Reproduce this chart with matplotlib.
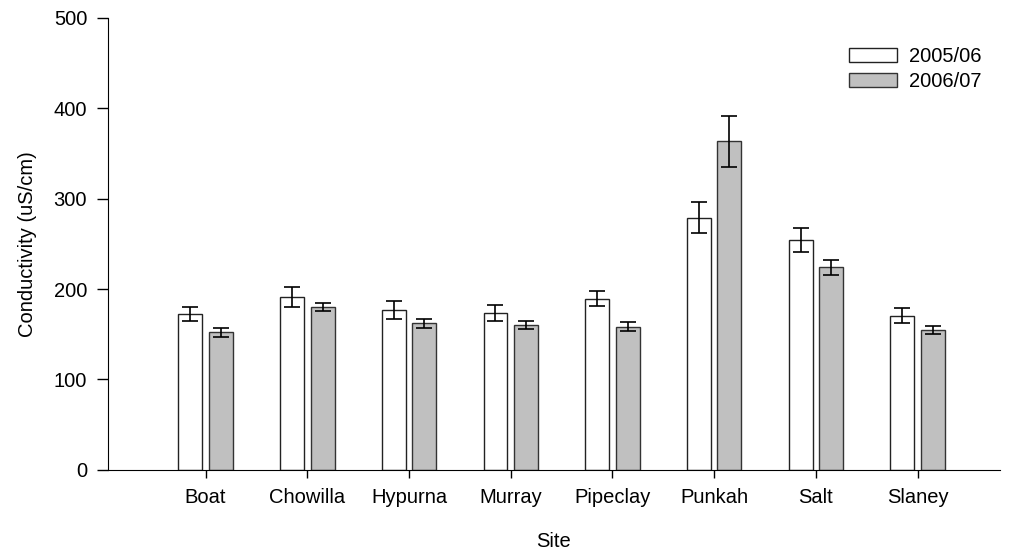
import numpy as np
import matplotlib
matplotlib.use("Agg")
import matplotlib.pyplot as plt

plt.rcParams['font.family'] = ['Liberation Sans', 'DejaVu Sans']

# data
sites = ['Boat', 'Chowilla', 'Hypurna', 'Murray', 'Pipeclay', 'Punkah', 'Salt', 'Slaney']
mean_0506 = [172.5, 191, 176.5, 173.5, 189.5, 279, 254, 170.5]
err_0506 = [8, 11, 10, 9, 8.5, 17, 13, 8.5]
mean_0607 = [152, 180.5, 162, 160.5, 158.5, 363.5, 224, 155]
err_0607 = [5, 4.5, 5, 4.5, 5, 28, 8, 4.5]

fig = plt.figure(figsize=(10.09, 5.58), dpi=100)
ax = fig.add_axes([0.107, 0.158, 0.884, 0.81])

x = np.arange(len(sites))
w = 0.235
off = 0.15
errkw = dict(ecolor='black', elinewidth=1.2, capsize=6, capthick=1.2)
ax.bar(x - off, mean_0506, w, yerr=err_0506, color='white', edgecolor='#222222',
       linewidth=1.0, error_kw=errkw, label='2005/06')
ax.bar(x + off, mean_0607, w, yerr=err_0607, color='#c0c0c0', edgecolor='#333333',
       linewidth=1.0, error_kw=errkw, label='2006/07')

ax.set_xlim(-0.96, 7.81)
ax.set_ylim(0, 500)
ax.set_yticks([0, 100, 200, 300, 400, 500])
ax.set_xticks(x)
ax.set_xticklabels(sites)
ax.tick_params(direction='out', width=1, labelsize=14.5)
ax.tick_params(axis='y', length=8, pad=7)
ax.tick_params(axis='x', length=6, pad=7)
ax.spines['top'].set_visible(False)
ax.spines['right'].set_visible(False)
ax.set_xlabel('Site', fontsize=14.5, labelpad=18)
ax.set_ylabel('Conductivity (uS/cm)', fontsize=14.5, labelpad=12)

ax.legend(loc='upper right', bbox_to_anchor=(1.0, 0.975), frameon=False, fontsize=14.5,
          handlelength=2.4, handleheight=0.7, handletextpad=0.6, labelspacing=0.3)

fig.savefig('out.png', dpi=100)
